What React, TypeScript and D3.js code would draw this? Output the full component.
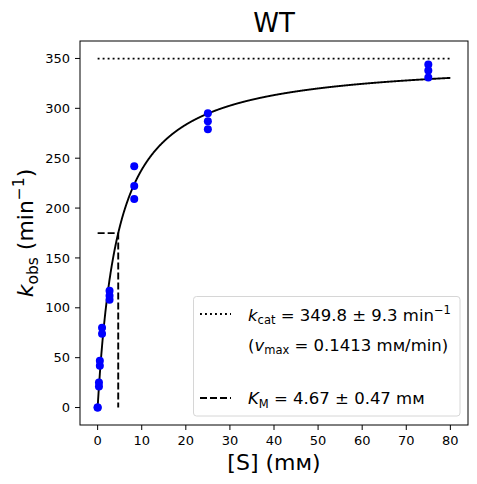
import React, { useEffect, useRef } from 'react';
import * as d3 from 'd3';

// measured substrate concentrations (mM) and rates (min^-1)
const substrate = [0, 0, 0.3, 0.3, 0.5, 0.5, 1.0, 1.0, 2.7, 2.7, 2.7, 8.3, 8.3, 8.3, 25, 25, 25, 75, 75, 75];
const rates = [0, 0, 25, 21, 47, 42, 80, 74, 117, 112, 108, 242, 222, 209, 295, 287, 279, 344, 338, 331];

// fit parameters
const KCAT = 349.8;
const KM = 4.67;
const S_MAX = 80;

const xTicks = [0, 10, 20, 30, 40, 50, 60, 70, 80];
const yTicks = [0, 50, 100, 150, 200, 250, 300, 350];

const FONT = 'DejaVu Sans, sans-serif';

export default function App() {
  const ref = useRef<SVGSVGElement>(null);

  useEffect(() => {
    if (!ref.current) return;
    const svg = d3.select(ref.current);
    svg.selectAll('*').remove();

    const left = 80, right = 468, top = 41, bottom = 425;
    const x = d3.scaleLinear().domain([-4, 84]).range([left, right]);
    const y = d3.scaleLinear().domain([-17.5, 367.5]).range([bottom, top]);

    svg.append('rect').attr('width', 477).attr('height', 484).attr('fill', '#fff');

    // kcat line
    svg.append('line')
      .attr('x1', x(0)).attr('x2', x(S_MAX))
      .attr('y1', y(KCAT)).attr('y2', y(KCAT))
      .attr('stroke', '#000').attr('stroke-width', 1.9)
      .attr('stroke-dasharray', '1.9,3.1');

    // KM guides
    svg.append('path')
      .attr('d', `M${x(0)},${y(KCAT / 2)}H${x(KM)}V${y(0)}`)
      .attr('fill', 'none')
      .attr('stroke', '#000').attr('stroke-width', 1.9)
      .attr('stroke-dasharray', '7,3');

    // fitted curve
    const fit = d3.range(0, S_MAX + 0.001, 0.05).map((s) => [s, (KCAT * s) / (KM + s)] as [number, number]);
    svg.append('path')
      .datum(fit)
      .attr('d', d3.line<[number, number]>().x((d) => x(d[0])).y((d) => y(d[1])))
      .attr('fill', 'none')
      .attr('stroke', '#000')
      .attr('stroke-width', 1.9);

    // data points
    svg.selectAll('.pt')
      .data(substrate.map((s, i) => [s, rates[i]]))
      .join('circle')
      .attr('class', 'pt')
      .attr('cx', (d) => x(d[0]))
      .attr('cy', (d) => y(d[1]))
      .attr('r', 4)
      .attr('fill', '#0000ff');

    // frame
    svg.append('rect')
      .attr('x', left).attr('y', top)
      .attr('width', right - left).attr('height', bottom - top)
      .attr('fill', 'none').attr('stroke', '#000').attr('stroke-width', 1);

    // x ticks
    const xt = svg.append('g').attr('font-family', FONT).attr('font-size', 13);
    xTicks.forEach((t) => {
      xt.append('line').attr('x1', x(t)).attr('x2', x(t)).attr('y1', bottom).attr('y2', bottom + 5).attr('stroke', '#000');
      xt.append('text').attr('x', x(t)).attr('y', 445).attr('text-anchor', 'middle').text(t);
    });

    // y ticks
    const yt = svg.append('g').attr('font-family', FONT).attr('font-size', 13);
    yTicks.forEach((t) => {
      yt.append('line').attr('x1', left - 5).attr('x2', left).attr('y1', y(t)).attr('y2', y(t)).attr('stroke', '#000');
      yt.append('text').attr('x', 70).attr('y', y(t)).attr('dy', '0.36em').attr('text-anchor', 'end').text(t);
    });

    // title
    svg.append('text')
      .attr('x', (left + right) / 2).attr('y', 32)
      .attr('text-anchor', 'middle')
      .attr('font-family', FONT).attr('font-size', 26)
      .text('WT');

    // x label
    svg.append('text')
      .attr('x', (left + right) / 2).attr('y', 470)
      .attr('text-anchor', 'middle')
      .attr('font-family', FONT).attr('font-size', 22)
      .text('[S] (m\u1D0D)');

    // y label
    const yl = svg.append('text')
      .attr('transform', `translate(33,${(top + bottom) / 2}) rotate(-90)`)
      .attr('text-anchor', 'middle')
      .attr('font-family', FONT).attr('font-size', 22);
    yl.append('tspan').attr('font-style', 'italic').text('k');
    yl.append('tspan').attr('font-size', 15.5).attr('dy', 4.5).text('obs');
    yl.append('tspan').attr('dy', -4.5).text(' (min');
    yl.append('tspan').attr('font-size', 15.5).attr('dy', -9).text('\u22121');
    yl.append('tspan').attr('dy', 9).text(')');

    // legend
    const lg = svg.append('g').attr('font-family', FONT).attr('font-size', 16.5);
    lg.append('rect')
      .attr('x', 193.5).attr('y', 296.5).attr('width', 266.5).attr('height', 119.5)
      .attr('rx', 3)
      .attr('fill', 'rgba(255,255,255,0.8)').attr('stroke', '#d6d6d6').attr('stroke-width', 1);
    lg.append('line')
      .attr('x1', 200).attr('x2', 231).attr('y1', 314).attr('y2', 314)
      .attr('stroke', '#000').attr('stroke-width', 1.9).attr('stroke-dasharray', '1.9,3.1');
    lg.append('line')
      .attr('x1', 200).attr('x2', 231).attr('y1', 398).attr('y2', 398)
      .attr('stroke', '#000').attr('stroke-width', 1.9).attr('stroke-dasharray', '7,3');

    const t1 = lg.append('text').attr('x', 248).attr('y', 320.5);
    t1.append('tspan').attr('font-style', 'italic').text('k');
    t1.append('tspan').attr('font-size', 11.5).attr('dy', 3.5).text('cat');
    t1.append('tspan').attr('dy', -3.5).text(' = 349.8 \u00B1 9.3 min');
    t1.append('tspan').attr('font-size', 11.5).attr('dy', -7).text('\u22121');

    const t2 = lg.append('text').attr('x', 248).attr('y', 350.5);
    t2.append('tspan').text('(');
    t2.append('tspan').attr('font-style', 'italic').text('v');
    t2.append('tspan').attr('font-size', 11.5).attr('dy', 3.5).text('max');
    t2.append('tspan').attr('dy', -3.5).text(' = 0.1413 m\u1D0D/min)');

    const t3 = lg.append('text').attr('x', 248).attr('y', 404);
    t3.append('tspan').attr('font-style', 'italic').text('K');
    t3.append('tspan').attr('font-size', 11.5).attr('dy', 3.5).text('M');
    t3.append('tspan').attr('dy', -3.5).text(' = 4.67 \u00B1 0.47 m\u1D0D');
  }, []);

  return (
    <svg
      ref={ref}
      width={477}
      height={484}
      style={{ position: 'absolute', left: 0, top: 0 }}
    />
  );
}
